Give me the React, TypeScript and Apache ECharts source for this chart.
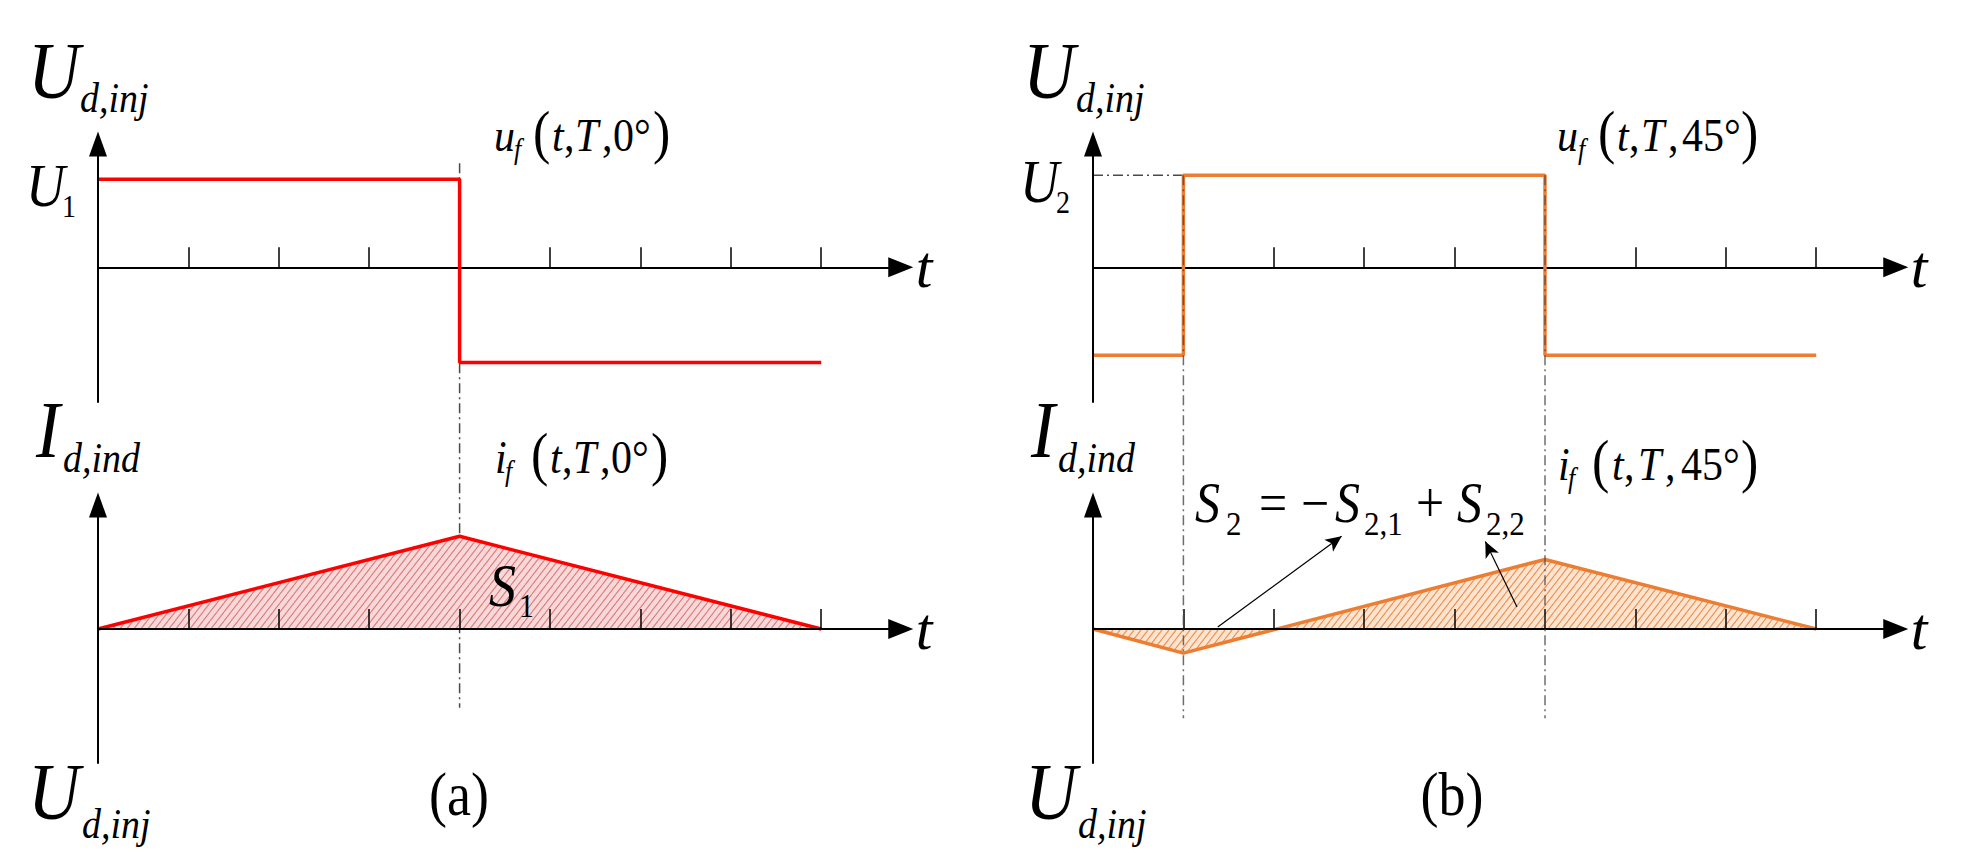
import React, { useEffect, useRef } from 'react';
import * as echarts from 'echarts';

// ---------------- data ----------------
const tickValues = [1, 2, 3, 4, 5, 6, 7, 8];
// panel (a): 0° phase
const uA_t = [0, 4, 4, 8];
const uA_v = [1.0, 1.0, -1.08, -1.08];
const iA_t = [0, 4, 8];
const iA_v = [0, 4.0, 0];
// panel (b): 45° phase
const uB_t = [0, 1, 1, 5, 5, 8];
const uB_v = [-1.0, -1.0, 1.045, 1.045, -1.0, -1.0];
const iB_t = [0, 1, 5, 8];
const iB_v = [0, -1.04, 3.0, 0];
// switching instants (dash-dot guides)
const switchA = [4];
const switchB = [1, 5];
const levelU2 = 1.045;
// annotation arrows in panel (b) current plot
const annoFrom = [[1.38, 0.09], [4.69, 0.95]];
const annoTo = [[2.75, 4.0], [4.34, 3.78]];

// ---------------- layout ----------------
const FONT = 'Liberation Serif';
const X_UNIT = 90.4;
const X_MAX = 8.88;
const GW = X_UNIT * X_MAX;
const LEFTS = [98, 1093];
const U_TOP = 144, U_H = 258, U_MIN = -1.53, U_MAX = 1.4;
const I_TOP = 505, I_H = 258, I_MIN = -5.78, I_MAX = 5.35;
const RED = '#ff0000';
const ORANGE = '#ed7d31';
const CENTRAL = 0.3;
const TEXT_SY = 1.12;

const pairs = (t: number[], v: number[]) => t.map((x, k) => [x, v[k]]);

function hatch(bg: string, fg: string) {
  const w = 7, h = 9;
  const c = document.createElement('canvas');
  c.width = w; c.height = h;
  const g = c.getContext('2d')!;
  g.fillStyle = bg; g.fillRect(0, 0, w, h);
  g.strokeStyle = fg; g.lineWidth = 1.1;
  g.beginPath();
  for (const o of [-w, 0, w]) { g.moveTo(o, h); g.lineTo(o + w, 0); }
  g.stroke();
  return { image: c, repeat: 'repeat', imageWidth: w, imageHeight: h };
}

type Seg = { t: string; s: number; i?: boolean; x?: number; dy?: number; a?: string };

let mctx: CanvasRenderingContext2D | null = null;
function measure(t: string, s: number, i?: boolean) {
  if (!mctx) mctx = document.createElement('canvas').getContext('2d');
  mctx!.font = `${i ? 'italic ' : ''}${s}px "${FONT}"`;
  return mctx!.measureText(t).width;
}

function mathText(base: number, segs: Seg[]) {
  let x = 0;
  const out: any[] = [];
  for (const sg of segs) {
    if (sg.x != null) x = sg.x;
    const b = base + (sg.dy || 0);
    out.push({
      type: 'text', x, y: b - CENTRAL * sg.s, z: 10, scaleY: TEXT_SY,
      style: {
        text: sg.t, fontFamily: FONT, fontStyle: sg.i ? 'italic' : 'normal', fontSize: sg.s,
        fill: '#000', align: sg.a || 'left', verticalAlign: 'middle',
      },
    });
    x += measure(sg.t, sg.s, sg.i);
  }
  return out;
}

const labelDefs: [number, Seg[]][] = [
  // ---- (a) ----
  [93, [{ t: 'U', s: 72, i: true, x: 28 }, { t: 'd,inj', s: 38, i: true, x: 80, dy: 16 }]],
  [202, [{ t: 'U', s: 54, i: true, x: 26 }, { t: '1', s: 28, x: 62, dy: 13 }]],
  [148, [
    { t: 'u', s: 42, i: true, x: 494 }, { t: 'f', s: 26, i: true, x: 514, dy: 9 },
    { t: '(', s: 52, x: 533 }, { t: 't', s: 42, i: true, x: 552 }, { t: ',', s: 42, x: 564 },
    { t: 'T', s: 42, i: true, x: 575 }, { t: ',', s: 42, x: 602 }, { t: '0°', s: 42, x: 613 },
    { t: ')', s: 52, x: 653 },
  ]],
  [452, [{ t: 'I', s: 72, i: true, x: 36 }, { t: 'd,ind', s: 38, i: true, x: 63, dy: 17 }]],
  [470, [
    { t: 'i', s: 42, i: true, x: 495 }, { t: 'f', s: 26, i: true, x: 505, dy: 9 },
    { t: '(', s: 52, x: 531 }, { t: 't', s: 42, i: true, x: 550 }, { t: ',', s: 42, x: 562 },
    { t: 'T', s: 42, i: true, x: 573 }, { t: ',', s: 42, x: 600 }, { t: '0°', s: 42, x: 611 },
    { t: ')', s: 52, x: 651 },
  ]],
  [602, [{ t: 'S', s: 54, i: true, x: 489 }, { t: '1', s: 30, x: 519, dy: 13 }]],
  [811, [{ t: '(a)', s: 54, x: 459, a: 'center' }]],
  [814, [{ t: 'U', s: 72, i: true, x: 28 }, { t: 'd,inj', s: 38, i: true, x: 82, dy: 21 }]],
  // ---- (b) ----
  [93, [{ t: 'U', s: 72, i: true, x: 1023 }, { t: 'd,inj', s: 38, i: true, x: 1076, dy: 16 }]],
  [198, [{ t: 'U', s: 54, i: true, x: 1020 }, { t: '2', s: 28, x: 1056, dy: 13 }]],
  [148, [
    { t: 'u', s: 42, i: true, x: 1557 }, { t: 'f', s: 26, i: true, x: 1578, dy: 9 },
    { t: '(', s: 52, x: 1598 }, { t: 't', s: 42, i: true, x: 1617 }, { t: ',', s: 42, x: 1629 },
    { t: 'T', s: 42, i: true, x: 1641 }, { t: ',', s: 42, x: 1668 }, { t: '45°', s: 42, x: 1682 },
    { t: ')', s: 52, x: 1741 },
  ]],
  [452, [{ t: 'I', s: 72, i: true, x: 1031 }, { t: 'd,ind', s: 38, i: true, x: 1058, dy: 17 }]],
  [477, [
    { t: 'i', s: 42, i: true, x: 1558 }, { t: 'f', s: 26, i: true, x: 1568, dy: 9 },
    { t: '(', s: 52, x: 1592 }, { t: 't', s: 42, i: true, x: 1612 }, { t: ',', s: 42, x: 1624 },
    { t: 'T', s: 42, i: true, x: 1638 }, { t: ',', s: 42, x: 1665 }, { t: '45°', s: 42, x: 1681 },
    { t: ')', s: 52, x: 1741 },
  ]],
  [518, [
    { t: 'S', s: 50, i: true, x: 1195 }, { t: '2', s: 31, x: 1226, dy: 15 },
    { t: '=', s: 50, x: 1259 }, { t: '\u2212', s: 50, x: 1301 }, { t: 'S', s: 50, i: true, x: 1335 },
    { t: '2,1', s: 31, x: 1364, dy: 15 }, { t: '+', s: 50, x: 1416 },
    { t: 'S', s: 50, i: true, x: 1457 }, { t: '2,2', s: 31, x: 1486, dy: 15 },
  ]],
  [811, [{ t: '(b)', s: 54, x: 1452, a: 'center' }]],
  [814, [{ t: 'U', s: 72, i: true, x: 1025 }, { t: 'd,inj', s: 38, i: true, x: 1078, dy: 21 }]],
];

function xAxisCfg(g: number, z: number) {
  return {
    type: 'value', gridIndex: g, min: 0, max: X_MAX, z,
    name: 't', nameLocation: 'end', nameGap: 15,
    nameTextStyle: { fontFamily: FONT, fontStyle: 'italic', fontSize: 60, color: '#000', padding: [0, 0, 8, 0] },
    axisLine: {
      show: true, onZero: true,
      lineStyle: { color: '#000', width: 2 },
      symbol: ['none', 'triangle'], symbolSize: [20, 25],
    },
    axisTick: { show: true, inside: true, length: 20, customValues: tickValues, lineStyle: { color: '#000', width: 1.5 } },
    axisLabel: { show: false },
    splitLine: { show: false },
  };
}

function yAxisCfg(g: number, min: number, max: number) {
  return {
    type: 'value', gridIndex: g, min, max, z: 3,
    axisLine: {
      show: true, onZero: true,
      lineStyle: { color: '#000', width: 2 },
      symbol: ['none', 'triangle'], symbolSize: [18, 25],
    },
    axisTick: { show: false },
    axisLabel: { show: false },
    splitLine: { show: false },
  };
}

export default function App() {
  const ref = useRef<HTMLDivElement>(null);
  useEffect(() => {
    if (!ref.current) return;
    const chart = echarts.init(ref.current, null, { renderer: 'svg' });
    const redHatch = hatch('#f7d9d9', '#e27a7a');
    const orangeHatch = hatch('#fde4d0', '#f18f4c');
    const gridBase = { containLabel: false, outerBoundsMode: 'none' };
    const option: any = {
      animation: false,
      backgroundColor: '#ffffff',
      grid: [
        { ...gridBase, left: LEFTS[0], top: U_TOP, width: GW, height: U_H },
        { ...gridBase, left: LEFTS[0], top: I_TOP, width: GW, height: I_H },
        { ...gridBase, left: LEFTS[1], top: U_TOP, width: GW, height: U_H },
        { ...gridBase, left: LEFTS[1], top: I_TOP, width: GW, height: I_H },
      ],
      xAxis: [xAxisCfg(0, 0), xAxisCfg(1, 3), xAxisCfg(2, 0), xAxisCfg(3, 3)],
      yAxis: [
        yAxisCfg(0, U_MIN, U_MAX), yAxisCfg(1, I_MIN, I_MAX),
        yAxisCfg(2, U_MIN, U_MAX), yAxisCfg(3, I_MIN, I_MAX),
      ],
      series: [
        {
          name: 'u_f(t,T,0°)', type: 'line', xAxisIndex: 0, yAxisIndex: 0,
          data: pairs(uA_t, uA_v), symbol: 'none', color: RED,
          lineStyle: { color: RED, width: 3.5 }, z: 2,
        },
        {
          name: 'i_f(t,T,0°)', type: 'line', xAxisIndex: 1, yAxisIndex: 1,
          data: pairs(iA_t, iA_v), symbol: 'none', color: RED,
          lineStyle: { color: RED, width: 3.5 },
          areaStyle: { color: redHatch, opacity: 1 }, z: 2,
        },
        {
          name: 'u_f(t,T,45°)', type: 'line', xAxisIndex: 2, yAxisIndex: 2,
          data: pairs(uB_t, uB_v), symbol: 'none', color: ORANGE,
          lineStyle: { color: ORANGE, width: 3.5 }, z: 2,
        },
        {
          name: 'i_f(t,T,45°)', type: 'line', xAxisIndex: 3, yAxisIndex: 3,
          data: pairs(iB_t, iB_v), symbol: 'none', color: ORANGE,
          lineStyle: { color: ORANGE, width: 3.5 },
          areaStyle: { color: orangeHatch, opacity: 1 }, z: 2,
          markLine: {
            silent: true, animation: false,
            symbol: ['none', 'arrow'], symbolSize: [11, 16],
            label: { show: false },
            lineStyle: { color: '#000', width: 1.2, type: 'solid' },
            emphasis: { disabled: true },
            data: annoFrom.map((f, k) => [{ coord: f }, { coord: annoTo[k] }]),
          },
        },
      ],
    };
    chart.setOption(option);

    const px = (g: number, x: number, y: number) => chart.convertToPixel({ gridIndex: g } as any, [x, y]) as number[];
    const dashStyle = { stroke: '#4a4a4a', lineWidth: 1.5, lineDash: [10, 4, 2, 4] };
    const guides: any[] = [];
    for (const t of switchA) {
      const p1 = px(0, t, 1.18), p2 = px(1, t, -3.4);
      guides.push({ type: 'line', z: 1, shape: { x1: p1[0], y1: p1[1], x2: p2[0], y2: p2[1] }, style: dashStyle });
    }
    for (const t of switchB) {
      const p1 = px(2, t, levelU2), p2 = px(3, t, -3.85);
      guides.push({ type: 'line', z: 5, shape: { x1: p1[0], y1: p1[1], x2: p2[0], y2: p2[1] }, style: { ...dashStyle, opacity: 0.8 } });
    }
    {
      const p1 = px(2, 0, levelU2), p2 = px(2, switchB[0], levelU2);
      guides.push({ type: 'line', z: 1, shape: { x1: p1[0], y1: p1[1], x2: p2[0], y2: p2[1] }, style: dashStyle });
    }
    const texts = labelDefs.flatMap(([base, segs]) => mathText(base, segs));
    chart.setOption({ graphic: { elements: [...guides, ...texts] } });

    return () => chart.dispose();
  }, []);
  return (
    <div
      ref={ref}
      style={{ position: 'fixed', left: 0, top: 0, width: 1982, height: 864, background: '#fff' }}
    />
  );
}
